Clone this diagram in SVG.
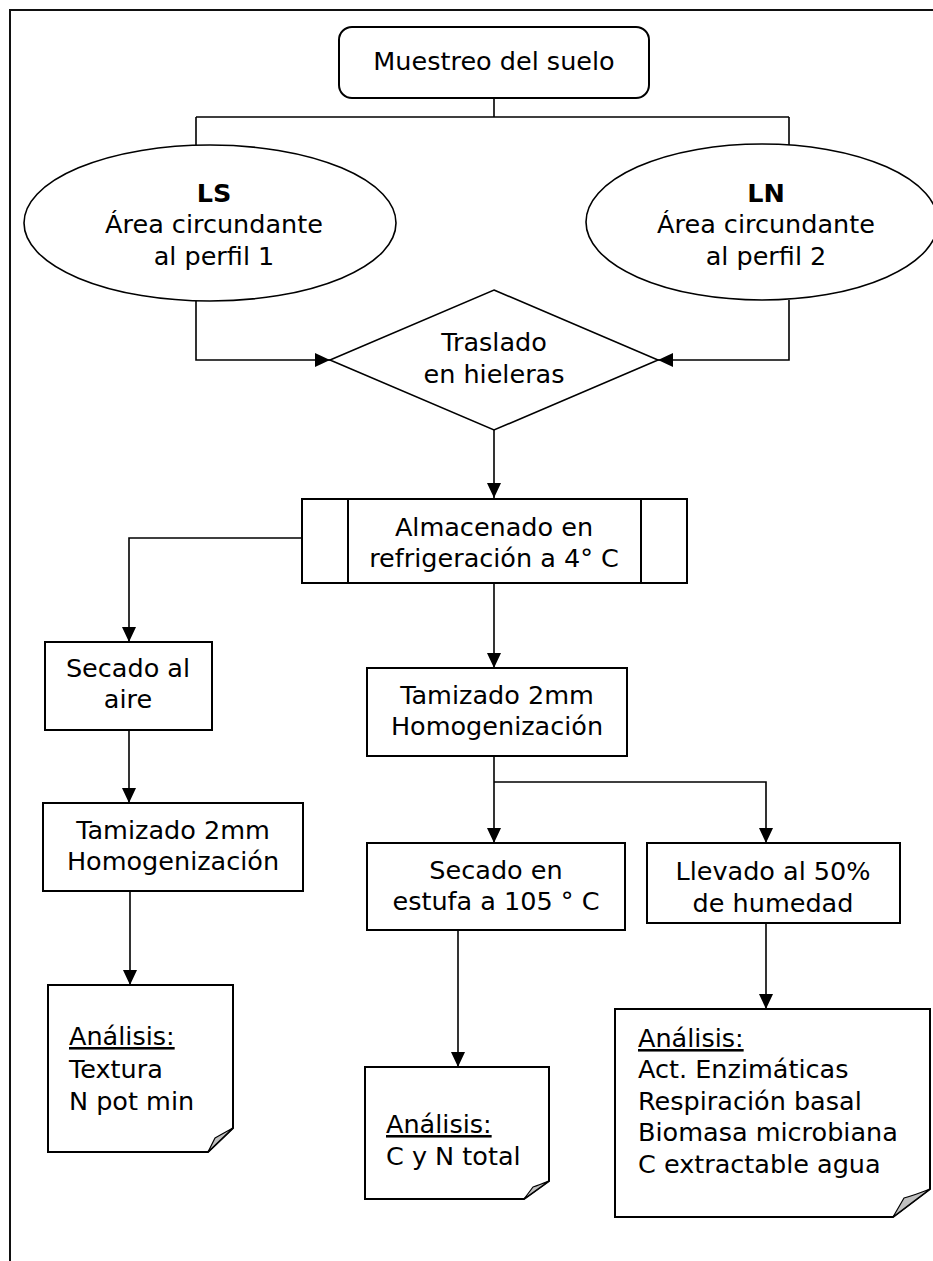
<svg xmlns="http://www.w3.org/2000/svg" width="933" height="1261" viewBox="0 0 933 1261">
<style>
text{font-family:"DejaVu Sans","Liberation Sans",sans-serif;font-size:25.5px;fill:#000}
.c{text-anchor:middle}
.b{font-weight:bold}
.u{text-decoration:underline}
.box{fill:#fff;stroke:#000;stroke-width:2}
.shape{fill:#fff;stroke:#000;stroke-width:1.6}
.fold{fill:#c0c0c0;stroke:#000;stroke-width:1.2;stroke-linejoin:round}
.con{fill:none;stroke:#000;stroke-width:1.6}
</style>
<defs>
<marker id="ah" markerUnits="userSpaceOnUse" markerWidth="15" markerHeight="14" viewBox="0 0 15 14" refX="15" refY="7" orient="auto">
<path d="M0,0 L15,7 L0,14 Z" fill="#000"/>
</marker>
</defs>
<rect width="933" height="1261" fill="#fff"/>
<path d="M10,1261 V10 H933" fill="none" stroke="#111" stroke-width="2"/>

<g id="connectors">
<path class="con" d="M494,98 V117 M196,117 H789 M196,117 V145 M789,117 V145"/>
<path class="con" d="M196,301 V360 H330" marker-end="url(#ah)"/>
<path class="con" d="M789,300 V360 H658" marker-end="url(#ah)"/>
<path class="con" d="M494,430 V498" marker-end="url(#ah)"/>
<path class="con" d="M302,538 H129 V642" marker-end="url(#ah)"/>
<path class="con" d="M494,583 V668" marker-end="url(#ah)"/>
<path class="con" d="M129,730 V803" marker-end="url(#ah)"/>
<path class="con" d="M130,891 V985" marker-end="url(#ah)"/>
<path class="con" d="M494,756 V843" marker-end="url(#ah)"/>
<path class="con" d="M494,782 H766 V843" marker-end="url(#ah)"/>
<path class="con" d="M458,930 V1067" marker-end="url(#ah)"/>
<path class="con" d="M766,923 V1009" marker-end="url(#ah)"/>
</g>

<g id="muestreo">
<rect class="box" x="339" y="27" width="310" height="71" rx="13"/>
<text class="c" x="494" y="70">Muestreo del suelo</text>
</g>

<g id="ls">
<ellipse class="shape" cx="210" cy="223" rx="186" ry="78"/>
<text class="c b" x="214" y="202">LS</text>
<text class="c" x="214" y="233">Área circundante</text>
<text class="c" x="214" y="265">al perfil 1</text>
</g>

<g id="ln">
<ellipse class="shape" cx="762" cy="222" rx="176" ry="78"/>
<text class="c b" x="766" y="202">LN</text>
<text class="c" x="766" y="233">Área circundante</text>
<text class="c" x="766" y="265">al perfil 2</text>
</g>

<g id="traslado">
<polygon class="shape" points="494,290 658,360 494,430 330,360"/>
<text class="c" x="494" y="351">Traslado</text>
<text class="c" x="494" y="383">en hieleras</text>
</g>

<g id="almacenado">
<rect class="box" x="302" y="499" width="385" height="84"/>
<path d="M348,499 V583 M641,499 V583" stroke="#000" stroke-width="2"/>
<text class="c" x="494" y="536">Almacenado en</text>
<text class="c" x="494" y="567">refrigeración a 4° C</text>
</g>

<g id="secado-aire">
<rect class="box" x="45" y="642" width="167" height="88"/>
<text class="c" x="128" y="677">Secado al</text>
<text class="c" x="128" y="708">aire</text>
</g>

<g id="tamizado-centro">
<rect class="box" x="367" y="668" width="260" height="88"/>
<text class="c" x="497" y="704">Tamizado 2mm</text>
<text class="c" x="497" y="735">Homogenización</text>
</g>

<g id="tamizado-izq">
<rect class="box" x="43" y="803" width="260" height="88"/>
<text class="c" x="173" y="839">Tamizado 2mm</text>
<text class="c" x="173" y="870">Homogenización</text>
</g>

<g id="secado-estufa">
<rect class="box" x="367" y="843" width="258" height="87"/>
<text class="c" x="496" y="879">Secado en</text>
<text class="c" x="496" y="910">estufa a 105 ° C</text>
</g>

<g id="llevado">
<rect class="box" x="647" y="843" width="253" height="80"/>
<text class="c" x="773" y="880">Llevado al 50%</text>
<text class="c" x="773" y="912">de humedad</text>
</g>

<g id="analisis-1">
<path class="box" d="M48,985 H233 V1128 L208,1152 H48 Z"/>
<path class="fold" d="M233,1128 Q222,1134 215,1138 L208,1152 Z"/>
<text class="u" x="69" y="1045">Análisis:</text>
<text x="69" y="1078">Textura</text>
<text x="69" y="1110">N pot min</text>
</g>

<g id="analisis-2">
<path class="box" d="M365,1067 H549 V1181 L524,1199 H365 Z"/>
<path class="fold" d="M549,1181 Q539,1185 533,1187 L524,1199 Z"/>
<text class="u" x="386" y="1133">Análisis:</text>
<text x="386" y="1165">C y N total</text>
</g>

<g id="analisis-3">
<path class="box" d="M615,1009 H930 V1189 L893,1217 H615 Z"/>
<path class="fold" d="M930,1189 Q915,1195 904,1198 L893,1217 Z"/>
<text class="u" x="638" y="1047">Análisis:</text>
<text x="638" y="1078">Act. Enzimáticas</text>
<text x="638" y="1110">Respiración basal</text>
<text x="638" y="1141">Biomasa microbiana</text>
<text x="638" y="1173">C extractable agua</text>
</g>
</svg>
